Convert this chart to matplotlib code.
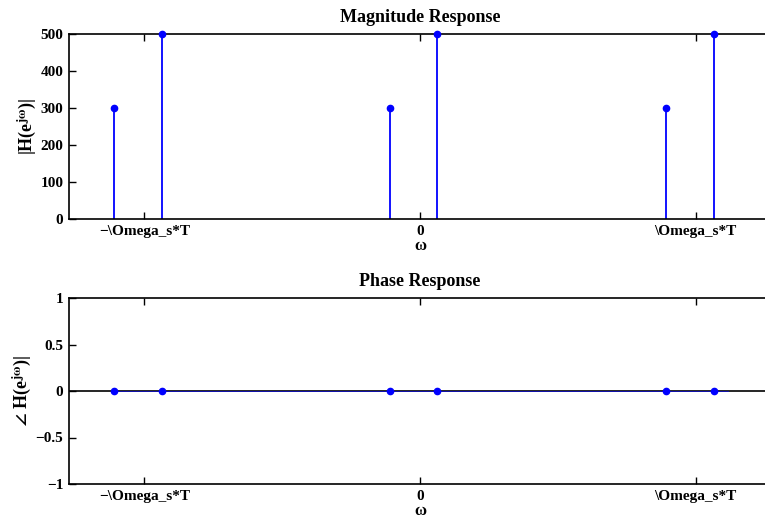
import numpy as np
import matplotlib.pyplot as plt

# ======================
# Data (omega in rad, Omega_s*T = 2*pi)
# ======================
W = 2 * np.pi
omega = [-6.97, -5.89, -0.68, 0.39, 5.61, 6.70]
mag = [300, 500, 300, 500, 300, 500]
phase = [0, 0, 0, 0, 0, 0]
phase_line_end = 7.02

xtick_pos = [-W, 0, W]
xtick_labels = ["\u2212\\Omega_s*T", "0", "\\Omega_s*T"]
mag_ticks = [0, 100, 200, 300, 400, 500]
phase_ticks = [-1, -0.5, 0, 0.5, 1]

plt.rcParams['font.family'] = ['Liberation Serif', 'DejaVu Serif']
plt.rcParams['font.weight'] = 'bold'
plt.rcParams['mathtext.fontset'] = 'stix'

fig = plt.figure(figsize=(7.65, 5.19), dpi=100)
W_px, H_px = 765, 519
left = 69 / W_px
width = (771 - 69) / W_px
ax1 = fig.add_axes([left, 1 - 219 / H_px, width, (219 - 34) / H_px])
ax2 = fig.add_axes([left, 1 - 484 / H_px, width, (484 - 298) / H_px])

blue = (0, 0, 1)

# magnitude stems
ax1.vlines(omega, 0, mag, color=blue, lw=1.3)
ax1.plot(omega, mag, 'o', color=blue, ms=4.5, clip_on=False, zorder=5)
ax1.set_ylim(0, 500)
ax1.set_yticks(mag_ticks)
ax1.set_title("Magnitude Response", fontsize=13, fontweight='bold', pad=9)
ax1.set_ylabel(r"|H(e$^{\mathbf{j\omega}}$)|", fontsize=13, fontweight='bold', labelpad=2)

# phase
ax2.axhline(0, color='black', lw=1.2)
ax2.plot([omega[0], phase_line_end], [0, 0], color=blue, lw=0.6, alpha=0.7)
ax2.plot(omega, phase, 'o', color=blue, ms=4.5, zorder=5)
ax2.set_ylim(-1, 1)
ax2.set_yticks(phase_ticks)
ax2.set_yticklabels(["\u22121", "\u22120.5", "0", "0.5", "1"])
ax2.set_title("Phase Response", fontsize=13, fontweight='bold', pad=9)
ax2.set_ylabel(r"$\angle$ H(e$^{\mathbf{j\omega}}$)|", fontsize=13, fontweight='bold', labelpad=2)

for ax in (ax1, ax2):
    ax.set_xlim(-8, 8)
    ax.set_xticks(xtick_pos)
    ax.set_xticklabels(xtick_labels)
    ax.set_xlabel("\u03c9", fontsize=12, fontweight='bold', labelpad=0)
    ax.tick_params(direction='in', length=5, width=1, top=True, right=False,
                   labelsize=11, pad=4)
    for s in ax.spines.values():
        s.set_linewidth(1.2)

fig.savefig("out.png", dpi=100)
